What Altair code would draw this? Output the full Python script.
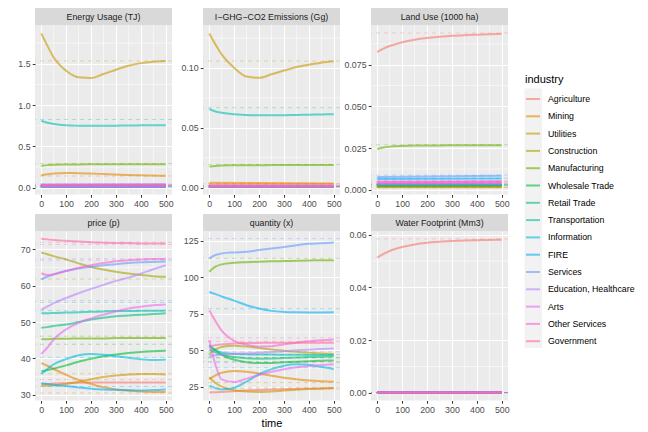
import altair as alt
import pandas as pd

INDUSTRIES = ["Agriculture", "Mining", "Utilities", "Construction", "Manufacturing",
              "Wholesale Trade", "Retail Trade", "Transportation", "Information", "FIRE",
              "Services", "Education, Healthcare", "Arts", "Other Services", "Government"]
COLORS = ["#F8766D", "#E58700", "#C99800", "#A3A500", "#6BB100", "#00BA38", "#00BF7D",
          "#00C0AF", "#00BCD8", "#00B0F6", "#619CFF", "#B983FF", "#E76BF3", "#FD61D1", "#FF67A4"]

T_FULL = [0, 25, 50, 100, 150, 200, 250, 300, 350, 400, 450, 500]
T_FLAT = [0, 500]
X_TICKS = [0, 100, 200, 300, 400, 500]
X_MINOR = [50, 150, 250, 350, 450]

# ---- Energy Usage (TJ)
ENERGY = {
    "Agriculture": [0.032, 0.034],
    "Mining": [0.150, 0.160, 0.170, 0.176, 0.175, 0.170, 0.163, 0.157, 0.152, 0.148, 0.145, 0.143],
    "Utilities": [1.869, 1.717, 1.576, 1.416, 1.336, 1.328, 1.376, 1.428, 1.476, 1.508, 1.525, 1.533],
    "Construction": [0.020, 0.020],
    "Manufacturing": [0.262, 0.272, 0.277, 0.280, 0.281, 0.282, 0.283, 0.283, 0.284, 0.284, 0.284, 0.284],
    "Wholesale Trade": [0.015, 0.016],
    "Retail Trade": [0.020, 0.021],
    "Transportation": [0.810, 0.785, 0.770, 0.755, 0.750, 0.748, 0.748, 0.750, 0.752, 0.754, 0.755, 0.756],
    "Information": [0.008, 0.008],
    "FIRE": [0.006, 0.006],
    "Services": [0.025, 0.027],
    "Education, Healthcare": [0.040, 0.042],
    "Arts": [0.010, 0.011],
    "Other Services": [0.022, 0.023],
    "Government": [0.030, 0.031],
}
ENERGY_EQ = {"Agriculture": 0.035, "Mining": 0.140, "Utilities": 1.535, "Construction": 0.021,
             "Manufacturing": 0.290, "Wholesale Trade": 0.017, "Retail Trade": 0.022,
             "Transportation": 0.825, "Information": 0.009, "FIRE": 0.007, "Services": 0.028,
             "Education, Healthcare": 0.043, "Arts": 0.012, "Other Services": 0.024, "Government": 0.032}

# ---- I-GHG-CO2 Emissions (Gg)
EMIS = {
    "Agriculture": [0.0025, 0.0027],
    "Mining": [0.0040, 0.0035],
    "Utilities": [0.1287, 0.1196, 0.1113, 0.1002, 0.0928, 0.0917, 0.0947, 0.0978, 0.1008, 0.1027, 0.1044, 0.1055],
    "Construction": [0.0012, 0.0012],
    "Manufacturing": [0.0175, 0.0181, 0.0184, 0.0186, 0.0187, 0.0187, 0.0188, 0.0188, 0.0188, 0.0188, 0.0188, 0.0188],
    "Wholesale Trade": [0.0008, 0.0008],
    "Retail Trade": [0.0009, 0.0009],
    "Transportation": [0.0657, 0.0636, 0.0625, 0.0612, 0.0607, 0.0605, 0.0605, 0.0605, 0.0607, 0.0609, 0.0611, 0.0613],
    "Information": [0.0004, 0.0004],
    "FIRE": [0.0004, 0.0004],
    "Services": [0.0010, 0.0011],
    "Education, Healthcare": [0.0015, 0.0016],
    "Arts": [0.0006, 0.0006],
    "Other Services": [0.0010, 0.0010],
    "Government": [0.0012, 0.0012],
}
EMIS_EQ = {"Agriculture": 0.0028, "Mining": 0.0033, "Utilities": 0.1057, "Construction": 0.0013,
           "Manufacturing": 0.0193, "Wholesale Trade": 0.0009, "Retail Trade": 0.0010,
           "Transportation": 0.0668, "Information": 0.0005, "FIRE": 0.0005, "Services": 0.0012,
           "Education, Healthcare": 0.0017, "Arts": 0.0007, "Other Services": 0.0011, "Government": 0.0013}

# ---- Land Use (1000 ha)
LAND = {
    "Agriculture": [0.0826, 0.0846, 0.0862, 0.0885, 0.0900, 0.0910, 0.0917, 0.0923, 0.0927, 0.0930, 0.0933, 0.0935],
    "Mining": [0.0015, 0.0015],
    "Utilities": [0.0018, 0.0018],
    "Construction": [0.0022, 0.0022],
    "Manufacturing": [0.0245, 0.0254, 0.0259, 0.0263, 0.0265, 0.0266, 0.0266, 0.0267, 0.0267, 0.0267, 0.0267, 0.0267],
    "Wholesale Trade": [0.0028, 0.0029],
    "Retail Trade": [0.0025, 0.0026],
    "Transportation": [0.0030, 0.0031],
    "Information": [0.0033, 0.0033],
    "FIRE": [0.0065, 0.0068],
    "Services": [0.0077, 0.0085],
    "Education, Healthcare": [0.0045, 0.0048],
    "Arts": [0.0040, 0.0042],
    "Other Services": [0.0050, 0.0052],
    "Government": [0.0035, 0.0036],
}
LAND_EQ = {"Agriculture": 0.0940, "Mining": 0.0014, "Utilities": 0.0017, "Construction": 0.0023,
           "Manufacturing": 0.0270, "Wholesale Trade": 0.0030, "Retail Trade": 0.0027,
           "Transportation": 0.0032, "Information": 0.0034, "FIRE": 0.0070, "Services": 0.0088,
           "Education, Healthcare": 0.0050, "Arts": 0.0043, "Other Services": 0.0054, "Government": 0.0037}

# ---- price (p)
PRICE = {
    "Agriculture": [33.0, 33.0, 33.1, 33.2, 33.3, 33.4, 33.4, 33.4, 33.4, 33.4, 33.4, 33.4],
    "Mining": [38.7, 38.0, 37.1, 35.5, 34.1, 33.0, 32.1, 31.5, 31.1, 30.9, 30.8, 30.8],
    "Utilities": [32.5, 32.5, 32.6, 33.0, 33.6, 34.3, 34.9, 35.3, 35.6, 35.7, 35.7, 35.6],
    "Construction": [69.1, 68.6, 68.1, 67.2, 66.1, 65.1, 64.4, 63.8, 63.3, 62.9, 62.6, 62.4],
    "Manufacturing": [45.3, 45.3, 45.4, 45.4, 45.5, 45.5, 45.5, 45.6, 45.6, 45.6, 45.6, 45.6],
    "Wholesale Trade": [36.4, 36.8, 37.2, 38.1, 39.1, 39.9, 40.6, 41.1, 41.5, 41.8, 42.0, 42.1],
    "Retail Trade": [48.4, 48.6, 48.9, 49.3, 50.0, 50.7, 51.2, 51.6, 51.8, 52.0, 52.2, 52.4],
    "Transportation": [52.4, 52.4, 52.5, 52.6, 52.7, 52.8, 52.9, 53.0, 53.0, 53.1, 53.1, 53.2],
    "Information": [35.7, 37.1, 38.4, 39.8, 40.9, 41.2, 41.0, 40.6, 40.2, 39.8, 39.6, 39.7],
    "FIRE": [33.2, 33.0, 32.8, 32.4, 32.0, 31.7, 31.5, 31.4, 31.3, 31.2, 31.3, 31.5],
    "Services": [61.7, 62.5, 63.1, 64.1, 64.7, 65.2, 65.6, 65.9, 66.2, 66.4, 66.5, 66.6],
    "Education, Healthcare": [53.4, 54.3, 55.2, 56.6, 57.9, 59.1, 60.2, 61.3, 62.2, 63.3, 64.5, 65.6],
    "Arts": [41.2, 43.0, 45.2, 48.0, 49.8, 51.0, 52.0, 52.9, 53.7, 54.2, 54.6, 54.8],
    "Other Services": [63.4, 62.9, 63.1, 64.0, 64.9, 65.6, 66.2, 66.7, 67.0, 67.2, 67.3, 67.3],
    "Government": [72.9, 72.7, 72.5, 72.3, 72.1, 71.9, 71.8, 71.7, 71.7, 71.6, 71.6, 71.6],
}
PRICE_EQ = {"Agriculture": 34.2, "Mining": 30.5, "Utilities": 35.8, "Construction": 61.8,
            "Manufacturing": 46.1, "Wholesale Trade": 43.9, "Retail Trade": 53.1,
            "Transportation": 55.4, "Information": 40.3, "FIRE": 32.3, "Services": 67.0,
            "Education, Healthcare": 55.9, "Arts": 67.4, "Other Services": 71.3, "Government": 71.9}

# ---- quantity (x)
QUANT = {
    "Agriculture": [21.0, 21.2, 21.4, 21.9, 22.3, 22.7, 23.0, 23.3, 23.5, 23.7, 23.8, 23.9],
    "Mining": [30.2, 32.8, 34.6, 35.8, 35.3, 34.0, 32.5, 31.1, 30.0, 29.2, 28.7, 28.4],
    "Utilities": [31.5, 27.5, 25.0, 22.5, 21.6, 21.4, 21.7, 22.3, 22.9, 23.4, 23.7, 24.0],
    "Construction": [47.5, 50.5, 52.2, 53.0, 52.5, 51.5, 50.5, 49.6, 48.9, 48.3, 47.8, 47.4],
    "Manufacturing": [103.9, 107.3, 108.9, 110.0, 110.4, 110.7, 111.0, 111.2, 111.4, 111.6, 111.7, 111.8],
    "Wholesale Trade": [53.5, 50.0, 47.0, 43.5, 41.8, 41.2, 41.3, 41.7, 42.1, 42.5, 42.8, 43.0],
    "Retail Trade": [50.5, 48.5, 47.0, 45.3, 44.5, 44.2, 44.3, 44.6, 45.0, 45.3, 45.6, 45.8],
    "Transportation": [52.5, 50.0, 48.5, 47.5, 47.2, 47.0, 47.0, 46.9, 46.9, 46.8, 46.8, 46.8],
    "Information": [25.7, 24.0, 23.0, 24.2, 28.5, 33.5, 37.0, 39.3, 40.3, 40.0, 38.6, 37.0],
    "FIRE": [89.9, 88.5, 86.9, 84.0, 80.9, 78.6, 77.0, 76.3, 76.0, 75.9, 75.9, 76.0],
    "Services": [113.0, 115.3, 116.4, 117.1, 117.5, 118.7, 119.8, 120.9, 122.1, 123.0, 123.4, 123.9],
    "Education, Healthcare": [46.0, 46.5, 47.0, 47.5, 47.8, 48.2, 48.7, 49.3, 49.9, 50.4, 50.8, 51.2],
    "Arts": [57.0, 40.0, 30.0, 28.2, 30.5, 33.0, 35.2, 37.0, 38.3, 39.2, 39.8, 40.3],
    "Other Services": [77.4, 70.0, 63.5, 56.5, 53.8, 52.5, 52.8, 54.0, 55.2, 56.2, 56.9, 57.4],
    "Government": [52.5, 53.5, 54.0, 54.6, 54.9, 55.0, 55.1, 55.1, 55.2, 55.2, 55.2, 55.2],
}
QUANT_EQ = {"Agriculture": 23.5, "Mining": 27.8, "Utilities": 24.5, "Construction": 45.0,
            "Manufacturing": 113.0, "Wholesale Trade": 42.2, "Retail Trade": 44.8,
            "Transportation": 47.0, "Information": 38.0, "FIRE": 78.5, "Services": 126.6,
            "Education, Healthcare": 49.0, "Arts": 41.5, "Other Services": 58.5, "Government": 56.0}

# ---- Water Footprint (Mm3)
WATER = {ind: [0.0001, 0.0001] for ind in INDUSTRIES}
WATER["Agriculture"] = [0.0513, 0.0527, 0.0538, 0.0553, 0.0563, 0.0569, 0.0573, 0.0576, 0.0578, 0.0579, 0.0580, 0.0581]
WATER_EQ = {ind: 0.0001 for ind in INDUSTRIES}
WATER_EQ["Agriculture"] = 0.0584

FONT = "Liberation Sans"
W, H, STRIP = 137, 169.5, 17

PANELS = [
    ("Energy Usage (TJ)", ENERGY, ENERGY_EQ, [-0.084, 1.97], [0, 0.5, 1.0, 1.5], [0.25, 0.75, 1.25, 1.75], ".1f"),
    ("I\u2212GHG\u2212CO2 Emissions (Gg)", EMIS, EMIS_EQ, [-0.0058, 0.1359], [0, 0.05, 0.10], [0.025, 0.075, 0.125], ".2f"),
    ("Land Use (1000 ha)", LAND, LAND_EQ, [-0.0028, 0.0988], [0, 0.025, 0.05, 0.075], [0.0125, 0.0375, 0.0625, 0.0875], ".3f"),
    ("price (p)", PRICE, PRICE_EQ, [28.45, 75.0], [30, 40, 50, 60, 70], [35, 45, 55, 65], "d"),
    ("quantity (x)", QUANT, QUANT_EQ, [15.5, 131.8], [25, 50, 75, 100, 125], [37.5, 62.5, 87.5, 112.5], "d"),
    ("Water Footprint (Mm3)", WATER, WATER_EQ, [-0.0029, 0.0614], [0, 0.02, 0.04, 0.06], [0.01, 0.03, 0.05], ".2f"),
]

color_scale = alt.Scale(domain=INDUSTRIES, range=COLORS)
x_scale = alt.Scale(domain=[-25, 525], nice=False, zero=False)


def make_panel(i, title, series, eq, domain, ticks, minor, fmt):
    rows = []
    for ind in INDUSTRIES:
        vals = series[ind]
        ts = T_FULL if len(vals) == len(T_FULL) else T_FLAT
        for t, v in zip(ts, vals):
            rows.append({"industry": ind, "time": t, "value": v})
    df = pd.DataFrame(rows)
    eqdf = pd.DataFrame({"industry": INDUSTRIES, "value": [eq[k] for k in INDUSTRIES]})
    y_scale = alt.Scale(domain=domain, nice=False, zero=False)
    xtitle = "time" if i == 4 else None
    x_axis = alt.Axis(values=X_TICKS, title=xtitle, format="d", labelOverlap=False)
    y_axis = alt.Axis(values=ticks, format=fmt, title=None, labelOverlap=False)

    minor_x = alt.Chart(pd.DataFrame({"time": X_MINOR})).mark_rule(
        color="white", strokeWidth=0.55).encode(
        x=alt.X("time:Q", scale=x_scale, axis=x_axis))
    minor_y = alt.Chart(pd.DataFrame({"value": minor})).mark_rule(
        color="white", strokeWidth=0.55).encode(
        y=alt.Y("value:Q", scale=y_scale, axis=y_axis))
    eq_rules = alt.Chart(eqdf).mark_rule(
        strokeDash=[4, 4], strokeWidth=1, opacity=0.3).encode(
        y=alt.Y("value:Q", scale=y_scale, axis=y_axis),
        color=alt.Color("industry:N", scale=color_scale))
    lines = alt.Chart(df).mark_line(
        strokeWidth=2, opacity=0.6, interpolate="monotone").encode(
        x=alt.X("time:Q", scale=x_scale, axis=x_axis),
        y=alt.Y("value:Q", scale=y_scale, axis=y_axis),
        color=alt.Color("industry:N", scale=color_scale,
                        legend=alt.Legend(title="industry", orient="none",
                                          legendX=490, legendY=49)))
    lab = pd.DataFrame({"label": [title]})
    strip_bg = alt.Chart(lab).mark_rect(color="#D9D9D9").encode(
        x=alt.value(0), x2=alt.value(W), y=alt.value(-STRIP), y2=alt.value(0))
    strip_tx = alt.Chart(lab).mark_text(
        font=FONT, fontSize=8.8, color="#1A1A1A", baseline="middle", align="center").encode(
        text="label:N", x=alt.value(W / 2), y=alt.value(-STRIP / 2))
    layers = [minor_x, minor_y, eq_rules, lines, strip_bg, strip_tx]
    if i == 2:
        # grey background column behind the legend keys
        key_bg = alt.Chart(lab).mark_rect(color="#F2F2F2").encode(
            x=alt.value(153.5), x2=alt.value(171), y=alt.value(63.5), y2=alt.value(323))
        layers.append(key_bg)
    return alt.layer(*layers).properties(width=W, height=H)


panels = [make_panel(i, *p) for i, p in enumerate(PANELS)]
chart = alt.concat(*panels, columns=3, spacing={"row": 36, "column": 31}, bounds="flush").properties(
    padding={"left": 9, "top": 0, "right": 5, "bottom": 5}
).configure_view(
    fill="#EBEBEB", stroke=None
).configure_axis(
    grid=True, gridColor="white", gridWidth=1.1, domain=False, labelOverlap=False,
    tickColor="#333333", tickSize=2.75, tickWidth=1,
    labelColor="#4D4D4D", labelFontSize=8.8, labelFont=FONT, labelPadding=2.2,
    titleFont=FONT, titleFontSize=11, titleColor="black", titleFontWeight="normal", titlePadding=3
).configure_legend(
    symbolType="stroke", symbolSize=196, symbolStrokeWidth=2, symbolOpacity=0.6,
    rowPadding=4.3, labelFont=FONT, labelFontSize=8.8, labelColor="black", labelOffset=7,
    titleFont=FONT, titleFontSize=11, titleColor="black", titleFontWeight="normal", titlePadding=6
)

chart.save("out.html", embed_options={"renderer": "svg", "actions": False})
